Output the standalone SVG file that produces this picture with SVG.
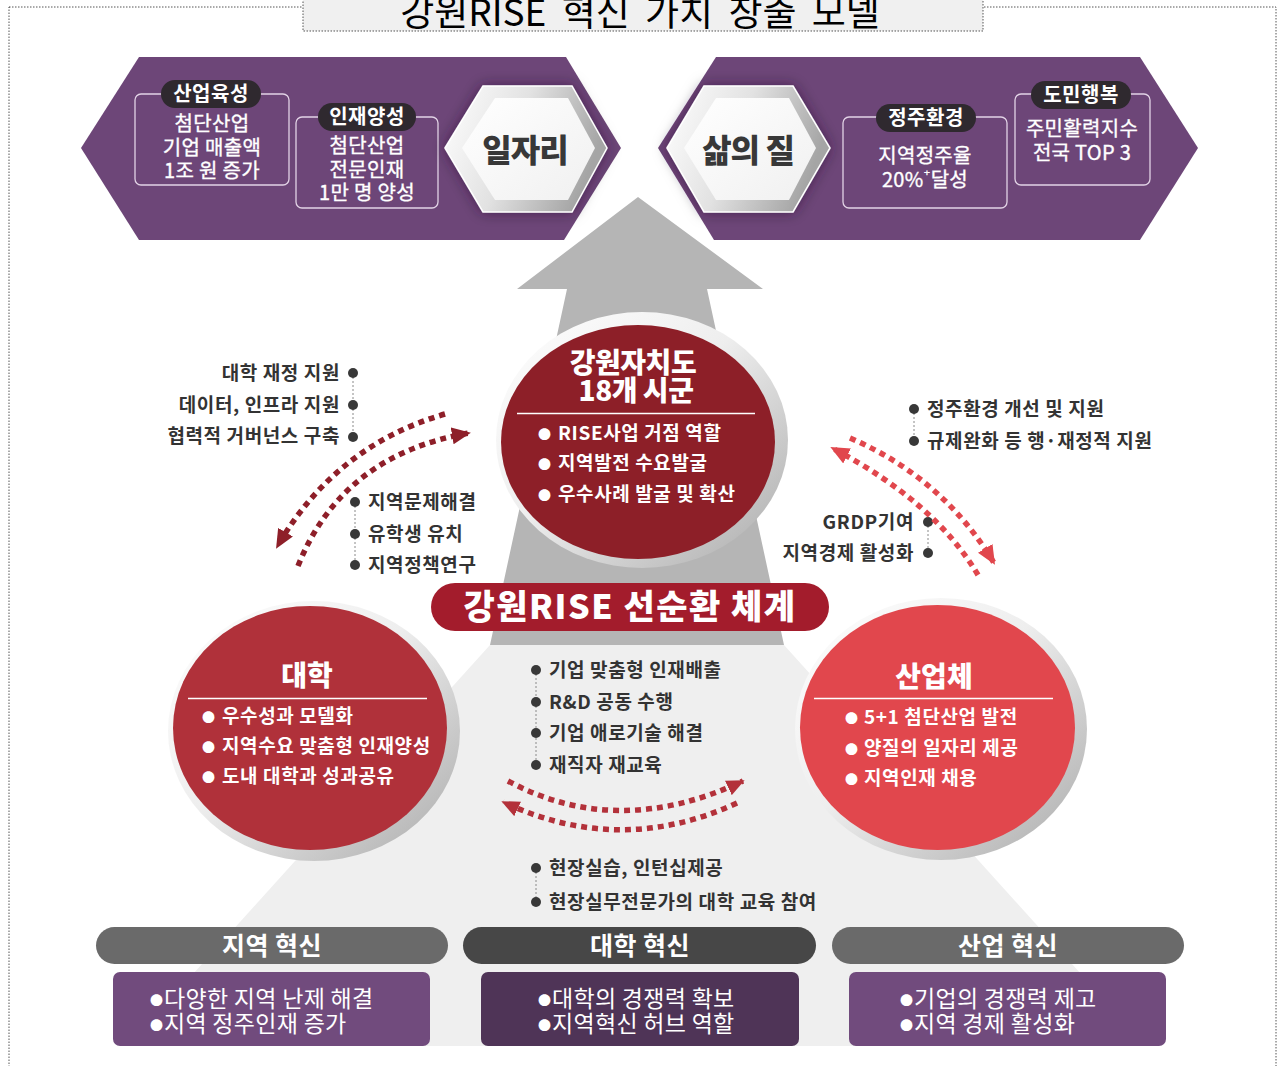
<svg xmlns="http://www.w3.org/2000/svg" width="1284" height="1066" viewBox="0 0 1284 1066">
<defs>
<style>
.k{font-family:"Noto Sans CJK KR","Noto Sans",sans-serif}
.b{font-weight:700}
.w{fill:#fff}
.bt{font-family:"Noto Sans CJK KR","Noto Sans",sans-serif;fill:#fff;font-size:20px;letter-spacing:0.3px;stroke:#fff;stroke-width:0.35}
.pt{font-family:"Noto Sans CJK KR","Noto Sans",sans-serif;fill:#fff;font-size:20px;font-weight:700;letter-spacing:0.5px}
.cb{font-family:"Noto Sans CJK KR","Noto Sans",sans-serif;fill:#fff;font-size:19px;font-weight:700;letter-spacing:0.6px}
.ct{font-family:"Noto Sans CJK KR","Noto Sans",sans-serif;fill:#fff;font-size:28px;font-weight:900}
.lbl{font-family:"Noto Sans CJK KR","Noto Sans",sans-serif;font-weight:700;font-size:19px;letter-spacing:0.6px;fill:#333}
.bar{font-family:"Noto Sans CJK KR","Noto Sans",sans-serif;fill:#fff;font-size:25px;font-weight:700;letter-spacing:0.5px}
.bx{font-family:"Noto Sans CJK KR","Noto Sans",sans-serif;fill:#fff;font-size:23px;letter-spacing:0.3px}
.box{fill:none;stroke:#e2d3e6;stroke-width:1.3}
.pill{fill:#2f292f}
.dot{fill:#383838}
.vline{stroke:#8a8a8a;stroke-width:1;stroke-dasharray:2 2;fill:none}
.dash{fill:none;stroke-width:5.5;stroke-dasharray:6 5}
</style>
<linearGradient id="ring" x1="0" y1="0" x2="1" y2="1">
<stop offset="0" stop-color="#ffffff"/>
<stop offset="0.45" stop-color="#eeeeee"/>
<stop offset="1" stop-color="#a9a9a9"/>
</linearGradient>
<linearGradient id="hexring" x1="0" y1="0" x2="1" y2="0.3">
<stop offset="0" stop-color="#ffffff"/>
<stop offset="0.5" stop-color="#e2e2e2"/>
<stop offset="1" stop-color="#a5a5a5"/>
</linearGradient>
<linearGradient id="hexin" x1="0" y1="0" x2="1" y2="1">
<stop offset="0" stop-color="#ffffff"/>
<stop offset="1" stop-color="#f0f0f0"/>
</linearGradient>
<filter id="sh" x="-30%" y="-30%" width="160%" height="160%">
<feDropShadow dx="0" dy="0" stdDeviation="7" flood-color="#2a0c30" flood-opacity="0.55"/>
</filter>
<marker id="mDark" viewBox="0 0 10 9" refX="9" refY="4.5" markerWidth="19" markerHeight="17" markerUnits="userSpaceOnUse" orient="auto" preserveAspectRatio="none">
<path d="M0,0 L10,4.5 L0,9 z" fill="#8e1f29"/>
</marker>
<marker id="mMid" viewBox="0 0 10 9" refX="9" refY="4.5" markerWidth="18" markerHeight="16" markerUnits="userSpaceOnUse" orient="auto" preserveAspectRatio="none">
<path d="M0,0 L10,4.5 L0,9 z" fill="#b3313a"/>
</marker>
<marker id="mLight" viewBox="0 0 10 9" refX="9" refY="4.5" markerWidth="19" markerHeight="17" markerUnits="userSpaceOnUse" orient="auto" preserveAspectRatio="none">
<path d="M0,0 L10,4.5 L0,9 z" fill="#e1474d"/>
</marker>
</defs>

<rect x="0" y="0" width="1284" height="1066" fill="#fff"/>
<!-- outer dotted frame -->
<rect x="9" y="7" width="1267" height="1075" fill="none" stroke="#555" stroke-width="1" stroke-dasharray="1.5 1.5"/>

<!-- title -->
<g id="title">
<rect x="303" y="-6" width="680" height="37" fill="#f0f0f0" stroke="#555" stroke-width="1" stroke-dasharray="1.5 1.5"/>
<text x="640" y="26" text-anchor="middle" class="k" font-size="37" word-spacing="7" fill="#000">강원RISE 혁신 가치 창출 모델</text>
</g>

<!-- background pyramid and arrow -->
<g id="background">
<polygon points="490,645 784,645 1146,1046 128,1046" fill="#efefef"/>
<polygon points="638,197 763,289 707,289 784,645 490,645 567,289 517,289" fill="#b5b5b5"/>
</g>

<!-- top banners -->
<g id="banner-left">
<polygon points="81,148 139,57 566,57 621,148 564,240 139,240" fill="#6d4678"/>
<rect x="135" y="94" width="154" height="91" rx="6" class="box"/>
<rect x="161" y="80" width="100" height="28" rx="14" class="pill"/>
<text x="211" y="101" text-anchor="middle" class="pt">산업육성</text>
<text x="212" y="131" text-anchor="middle" class="bt">첨단산업</text>
<text x="212" y="155" text-anchor="middle" class="bt">기업 매출액</text>
<text x="212" y="178" text-anchor="middle" class="bt">1조 원 증가</text>
<rect x="296" y="117" width="142" height="91" rx="6" class="box"/>
<rect x="318" y="103" width="98" height="28" rx="14" class="pill"/>
<text x="367" y="124" text-anchor="middle" class="pt">인재양성</text>
<text x="367" y="153" text-anchor="middle" class="bt">첨단산업</text>
<text x="367" y="177" text-anchor="middle" class="bt">전문인재</text>
<text x="367" y="200" text-anchor="middle" class="bt">1만 명 양성</text>
</g>
<g id="hex-jobs">
<polygon points="445,148 483,86 572,86 607,148 572,212 483,212" fill="url(#hexring)" stroke="#fff" stroke-width="1.5" filter="url(#sh)"/>
<polygon points="462,148 495,98 568,98 595,148 568,200 495,200" fill="url(#hexin)"/>
<text x="525" y="162" text-anchor="middle" class="k" font-weight="900" font-size="32" letter-spacing="-1" fill="#383838">일자리</text>
</g>

<g id="banner-right">
<polygon points="658,148 716,57 1140,57 1198,148 1140,240 714,240" fill="#6d4678"/>
<rect x="843" y="117" width="164" height="91" rx="6" class="box"/>
<rect x="876" y="104" width="100" height="28" rx="14" class="pill"/>
<text x="926" y="125" text-anchor="middle" class="pt">정주환경</text>
<text x="925" y="163" text-anchor="middle" class="bt">지역정주율</text>
<text x="925" y="187" text-anchor="middle" class="bt">20%<tspan font-size="13" dy="-8" font-family="DejaVu Sans,sans-serif">⁺</tspan><tspan dy="8">달성</tspan></text>
<rect x="1015" y="94" width="135" height="91" rx="6" class="box"/>
<rect x="1031" y="81" width="100" height="28" rx="14" class="pill"/>
<text x="1081" y="102" text-anchor="middle" class="pt">도민행복</text>
<text x="1082" y="136" text-anchor="middle" class="bt">주민활력지수</text>
<text x="1082" y="160" text-anchor="middle" class="bt">전국 TOP 3</text>
</g>
<g id="hex-life">
<polygon points="667,148 704,86 793,86 830,148 793,212 704,212" fill="url(#hexring)" stroke="#fff" stroke-width="1.5" filter="url(#sh)"/>
<polygon points="684,148 716,98 789,98 816,148 789,200 716,200" fill="url(#hexin)"/>
<text x="748" y="162" text-anchor="middle" class="k" font-weight="900" font-size="32" letter-spacing="-1" fill="#383838">삶의 질</text>
</g>

<!-- center circle -->
<g id="node-gangwon">
<ellipse cx="642" cy="440" rx="146" ry="128" fill="url(#ring)"/>
<ellipse cx="638" cy="442" rx="137" ry="117" fill="#8d1f28"/>
<text x="633" y="373" text-anchor="middle" class="ct" letter-spacing="-0.5">강원자치도</text>
<text x="636" y="401" text-anchor="middle" class="ct" letter-spacing="-0.5">18개 시군</text>
<line x1="517" y1="413.5" x2="755" y2="413.5" stroke="#fff" stroke-width="1.5"/>
<text class="cb" y="440"><tspan x="538" font-size="13" dy="-1">●</tspan><tspan x="558" dy="1">RISE사업 거점 역할</tspan></text>
<text class="cb" y="470"><tspan x="538" font-size="13" dy="-1">●</tspan><tspan x="558" dy="1">지역발전 수요발굴</tspan></text>
<text class="cb" y="501"><tspan x="538" font-size="13" dy="-1">●</tspan><tspan x="558" dy="1">우수사례 발굴 및 확산</tspan></text>
</g>

<!-- university circle -->
<g id="node-univ">
<ellipse cx="314" cy="731" rx="146" ry="130" fill="url(#ring)"/>
<ellipse cx="310" cy="728" rx="137" ry="122" fill="#b0313a"/>
<text x="307" y="686" text-anchor="middle" class="ct">대학</text>
<line x1="188" y1="698.5" x2="427" y2="698.5" stroke="#fff" stroke-width="1.5"/>
<text class="cb" y="723"><tspan x="202" font-size="13" dy="-1">●</tspan><tspan x="222" dy="1">우수성과 모델화</tspan></text>
<text class="cb" y="753"><tspan x="202" font-size="13" dy="-1">●</tspan><tspan x="222" dy="1">지역수요 맞춤형 인재양성</tspan></text>
<text class="cb" y="783"><tspan x="202" font-size="13" dy="-1">●</tspan><tspan x="222" dy="1">도내 대학과 성과공유</tspan></text>
</g>

<!-- industry circle -->
<g id="node-industry">
<ellipse cx="941" cy="729" rx="146" ry="131" fill="url(#ring)"/>
<ellipse cx="937.5" cy="727.5" rx="137.5" ry="122.5" fill="#e1474d"/>
<text x="934" y="687" text-anchor="middle" class="ct">산업체</text>
<line x1="814" y1="698.5" x2="1053" y2="698.5" stroke="#fff" stroke-width="1.5"/>
<text class="cb" y="724"><tspan x="845" font-size="13" dy="-1">●</tspan><tspan x="864" dy="1">5+1 첨단산업 발전</tspan></text>
<text class="cb" y="755"><tspan x="845" font-size="13" dy="-1">●</tspan><tspan x="864" dy="1">양질의 일자리 제공</tspan></text>
<text class="cb" y="785"><tspan x="845" font-size="13" dy="-1">●</tspan><tspan x="864" dy="1">지역인재 채용</tspan></text>
</g>

<!-- cycle pill -->
<g id="node-cycle">
<rect x="431" y="583" width="398" height="48" rx="24" fill="#a31c2c"/>
<text x="630" y="619" text-anchor="middle" class="k w" font-weight="900" font-size="34" letter-spacing="1.5">강원RISE 선순환 체계</text>
</g>

<!-- side labels -->
<g id="labels-left-top">
<line x1="353" y1="373" x2="353" y2="437" class="vline"/>
<circle cx="353" cy="373" r="5" class="dot"/>
<circle cx="353" cy="405" r="5" class="dot"/>
<circle cx="353" cy="437" r="5" class="dot"/>
<text x="340" y="380" text-anchor="end" class="lbl">대학 재정 지원</text>
<text x="340" y="412" text-anchor="end" class="lbl">데이터, 인프라 지원</text>
<text x="340" y="443" text-anchor="end" class="lbl">협력적 거버넌스 구축</text>
</g>
<g id="labels-left-bottom">
<line x1="355" y1="502" x2="355" y2="565" class="vline"/>
<circle cx="355" cy="502" r="5" class="dot"/>
<circle cx="355" cy="534" r="5" class="dot"/>
<circle cx="355" cy="565" r="5" class="dot"/>
<text x="368" y="509" class="lbl">지역문제해결</text>
<text x="368" y="541" class="lbl">유학생 유치</text>
<text x="368" y="572" class="lbl">지역정책연구</text>
</g>
<g id="labels-right-top">
<line x1="914" y1="409" x2="914" y2="441" class="vline"/>
<circle cx="914" cy="409" r="5" class="dot"/>
<circle cx="914" cy="441" r="5" class="dot"/>
<text x="927" y="416" class="lbl">정주환경 개선 및 지원</text>
<text x="927" y="448" class="lbl">규제완화 등 행·재정적 지원</text>
</g>
<g id="labels-right-bottom">
<line x1="928" y1="522" x2="928" y2="553" class="vline"/>
<circle cx="928" cy="522" r="5" class="dot"/>
<circle cx="928" cy="553" r="5" class="dot"/>
<text x="914" y="529" text-anchor="end" class="lbl">GRDP기여</text>
<text x="914" y="560" text-anchor="end" class="lbl">지역경제 활성화</text>
</g>
<g id="labels-middle">
<line x1="536" y1="670" x2="536" y2="765" class="vline"/>
<line x1="536" y1="868" x2="536" y2="902" class="vline"/>
<circle cx="536" cy="670" r="5" class="dot"/>
<circle cx="536" cy="702" r="5" class="dot"/>
<circle cx="536" cy="733" r="5" class="dot"/>
<circle cx="536" cy="765" r="5" class="dot"/>
<circle cx="536" cy="868" r="5" class="dot"/>
<circle cx="536" cy="902" r="5" class="dot"/>
<text x="549" y="677" class="lbl">기업 맞춤형 인재배출</text>
<text x="549" y="709" class="lbl">R&amp;D 공동 수행</text>
<text x="549" y="740" class="lbl">기업 애로기술 해결</text>
<text x="549" y="772" class="lbl">재직자 재교육</text>
<text x="549" y="875" class="lbl">현장실습, 인턴십제공</text>
<text x="549" y="909" class="lbl">현장실무전문가의 대학 교육 참여</text>
</g>

<!-- connectors -->
<g id="connectors">
<path d="M445,414 Q335,446 277,547" class="dash" stroke="#8e1f29" marker-end="url(#mDark)"/>
<path d="M298,566 Q342,455 469,433" class="dash" stroke="#8e1f29" marker-end="url(#mDark)"/>
<path d="M850,438 Q943,478 994,563" class="dash" stroke="#e1474d" marker-end="url(#mLight)"/>
<path d="M978,575 Q935,502 832,448" class="dash" stroke="#e1474d" marker-end="url(#mLight)"/>
<path d="M508,781 Q618,840 743,781" class="dash" stroke="#b3313a" marker-end="url(#mMid)"/>
<path d="M737,803 Q620,857 503,802" class="dash" stroke="#b3313a" marker-end="url(#mMid)"/>
</g>

<!-- bottom categories -->
<g id="cat-region">
<rect x="96" y="927" width="352" height="37" rx="18.5" fill="#6a6a6a"/>
<text x="272" y="955" text-anchor="middle" class="bar">지역 혁신</text>
<rect x="113" y="972" width="317" height="74" rx="7" fill="#714b7d"/>
<text class="bx" y="1007"><tspan x="150" font-size="13" dy="-2">●</tspan><tspan x="164" dy="2">다양한 지역 난제 해결</tspan></text>
<text class="bx" y="1032"><tspan x="150" font-size="13" dy="-2">●</tspan><tspan x="164" dy="2">지역 정주인재 증가</tspan></text>
</g>
<g id="cat-univ">
<rect x="463" y="927" width="353" height="37" rx="18.5" fill="#474747"/>
<text x="640" y="955" text-anchor="middle" class="bar">대학 혁신</text>
<rect x="481" y="972" width="318" height="74" rx="7" fill="#4f3457"/>
<text class="bx" y="1007"><tspan x="538" font-size="13" dy="-2">●</tspan><tspan x="552" dy="2">대학의 경쟁력 확보</tspan></text>
<text class="bx" y="1032"><tspan x="538" font-size="13" dy="-2">●</tspan><tspan x="552" dy="2">지역혁신 허브 역할</tspan></text>
</g>
<g id="cat-industry">
<rect x="832" y="927" width="352" height="37" rx="18.5" fill="#6a6a6a"/>
<text x="1008" y="955" text-anchor="middle" class="bar">산업 혁신</text>
<rect x="849" y="972" width="317" height="74" rx="7" fill="#714b7d"/>
<text class="bx" y="1007"><tspan x="900" font-size="13" dy="-2">●</tspan><tspan x="914" dy="2">기업의 경쟁력 제고</tspan></text>
<text class="bx" y="1032"><tspan x="900" font-size="13" dy="-2">●</tspan><tspan x="914" dy="2">지역 경제 활성화</tspan></text>
</g>
</svg>
